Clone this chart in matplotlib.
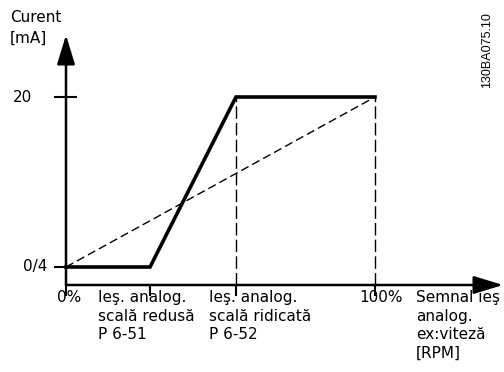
import numpy as np
import matplotlib
matplotlib.use("Agg")
import matplotlib.pyplot as plt

# signal (% of full scale) and output current (mA)
x_pct = [0, 27.2, 55.0, 100]
y_ma = [4, 4, 20, 20]
x_lin = [0, 100]
y_lin = [4, 20]
x_scale = [55.0, 100]
y_low, y_high = 4, 20
x_ticks = [0, 27.2, 55.0, 100]
y_ticks = [4, 20]
y_tick_labels = ["0/4", "20"]
y_label_off = [-19, -34]   # px left of the axis

# pixel mapping: 3.09 px per %, 10.625 px per mA
px_x = 3.09
px_y = 10.625
y_axis = 4 - 18 / px_y          # where the x axis sits
y_top = 4 + 232 / px_y
x_right = (503 - 66) / px_x

plt.rcParams['font.family'] = ['DejaVu Sans']
fig = plt.figure(figsize=(5.04, 3.72), dpi=100)
ax = fig.add_axes([0, 0, 1, 1])
ax.set_xlim(-66 / px_x, (504 - 66) / px_x)
ax.set_ylim(4 - 105 / px_y, 4 + 267 / px_y)
ax.axis("off")

# axes with arrows
ax.annotate("", xy=(0, y_top), xytext=(0, y_axis),
            arrowprops=dict(arrowstyle="-|>,head_length=1.8,head_width=0.55",
                            lw=1.8, color="k", shrinkA=0, shrinkB=0))
ax.annotate("", xy=(x_right, y_axis), xytext=(0, y_axis),
            arrowprops=dict(arrowstyle="-|>,head_length=1.8,head_width=0.55",
                            lw=1.8, color="k", shrinkA=0, shrinkB=0))

# ticks
tl = 10 / px_y
for xt in x_ticks:
    ax.plot([xt, xt], [y_axis, y_axis - tl], color="k", lw=1.5)
ax.plot([-11 / px_x, 0], [y_low, y_low], color="k", lw=1.5)
ax.plot([-11 / px_x, 10 / px_x], [y_high, y_high], color="k", lw=1.5)

# dashed helper lines
ax.plot(x_lin, y_lin, color="k", lw=1, linestyle=(0, (6, 3)))
for xs in x_scale:
    ax.plot([xs, xs], [y_axis, y_high], color="k", lw=1, linestyle=(0, (9, 3)))

# output curve
ax.plot(x_pct, y_ma, color="k", lw=2.6, solid_joinstyle="miter")

fs = 11
ax.text(-56 / px_x, 4 + 239 / px_y, "Curent\n[mA]", fontsize=fs, ha="left",
        va="center", linespacing=1.5)
for yt, lab, off in zip(y_ticks, y_tick_labels, y_label_off):
    ax.text(off / px_x, yt, lab, fontsize=fs, ha="right", va="center")

top = y_axis - 5 / px_y
ax.text(3 / px_x, top, "0%", fontsize=fs, ha="center", va="top")
ax.text(32 / px_x, top, "Ieş. analog.\nscală redusă\nP 6-51", fontsize=fs,
        ha="left", va="top", linespacing=1.3)
ax.text(143 / px_x, top, "Ieş. analog.\nscală ridicată\nP 6-52", fontsize=fs,
        ha="left", va="top", linespacing=1.3)
ax.text(100 + 28 / px_x, top, "100%", fontsize=fs, ha="right", va="top")
ax.text(100 + 41 / px_x, top, "Semnal ieş\nanalog.\nex:viteză\n[RPM]", fontsize=fs,
        ha="left", va="top", linespacing=1.3)

ax.text(x_right - 16 / px_x, 4 + 217 / px_y, "130BA075.10", fontsize=9,
        family="Liberation Sans", rotation=90, ha="center", va="center")

fig.savefig("out.png", dpi=100)
